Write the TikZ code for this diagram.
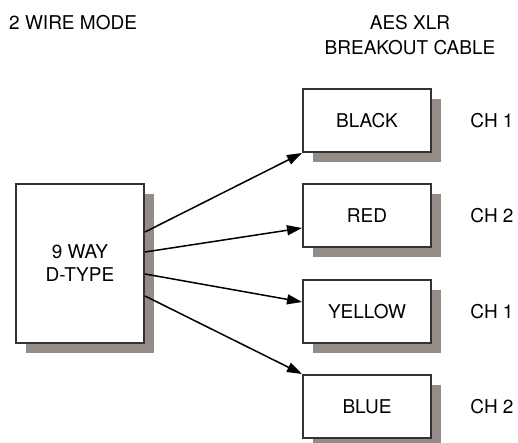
\documentclass[tikz,border=0pt]{standalone}
\usepackage{fontspec}
\setmainfont{TeX Gyre Heros}
\usetikzlibrary{arrows.meta,shadows}
\definecolor{shadowc}{HTML}{948C89}
\definecolor{edgec}{HTML}{333333}
\begin{document}
\begin{tikzpicture}[x=1pt,y=-1pt,
  box/.style={draw=edgec, line width=2pt, fill=white, minimum width=128pt, inner sep=0pt,
    font=\fontsize{19}{23}\selectfont, align=center,
    drop shadow={shadow xshift=10pt, shadow yshift=-10pt, fill=shadowc, opacity=1}},
  smallbox/.style={box, minimum height=63pt},
  lbl/.style={font=\fontsize{19}{25}\selectfont, align=center, inner sep=0pt},
  conn/.style={line width=1.5pt, -{Triangle[length=15pt,width=10pt]}}]
\useasboundingbox (0,0) rectangle (518,443);
\node[lbl, anchor=west] (mode) at (9,23) {2 WIRE MODE};
\node[lbl] (cable) at (410,35) {AES XLR\\BREAKOUT CABLE};
\node[box, minimum height=159pt] (dtype) at (80,263.5) {9 WAY\\D-TYPE};
\node[smallbox] (black) at (367,120.5) {BLACK};
\node[smallbox] (red) at (367,215.5) {RED};
\node[smallbox] (yellow) at (367,311.5) {YELLOW};
\node[smallbox] (blue) at (367,406.5) {BLUE};
\node[lbl] (ch1a) at (492,120.5) {CH 1};
\node[lbl] (ch2a) at (492,215.5) {CH 2};
\node[lbl] (ch1b) at (492,311.5) {CH 1};
\node[lbl] (ch2b) at (492,406.5) {CH 2};
\draw[conn] ([yshift=31.5pt]dtype.east) -- (black.south west);
\draw[conn] ([yshift=11.5pt]dtype.east) -- ([yshift=-12.5pt]red.west);
\draw[conn] ([yshift=-10.5pt]dtype.east) -- ([yshift=9.5pt]yellow.west);
\draw[conn] ([yshift=-32.5pt]dtype.east) -- (blue.north west);
\end{tikzpicture}
\end{document}
